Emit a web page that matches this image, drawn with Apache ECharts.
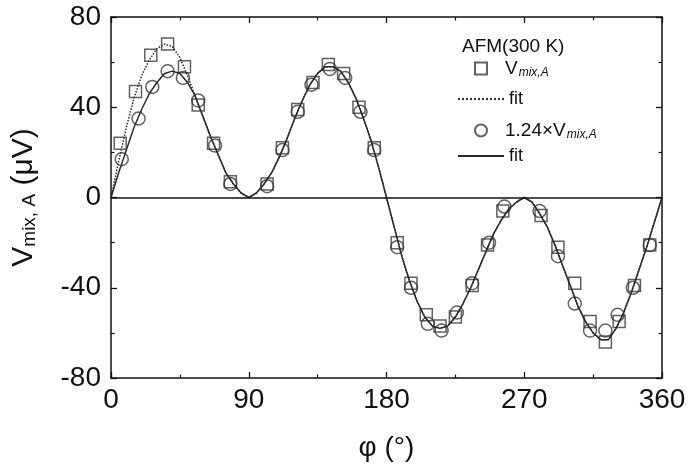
<!DOCTYPE html>
<html>
<head>
<meta charset="utf-8">
<script src="https://cdn.jsdelivr.net/npm/echarts@6/dist/echarts.min.js"></script>
<style>
  html, body { margin: 0; padding: 0; background: #fff; }
  #chart { width: 698px; height: 475px; }
</style>
</head>
<body>
<div id="chart"></div>
<script>
// Axis ticks
const xTicks = [0, 90, 180, 270, 360];
const yTicks = [-80, -40, 0, 40, 80];

// Measured V_mix,A (squares)
const phiSq = [6, 16, 26, 37, 48, 57, 67, 78, 102, 112, 122, 132, 142, 152, 162, 172,
               187, 196, 206, 215, 225, 236, 246, 256, 281, 292, 303, 313, 323, 332, 342, 352];
const vSq   = [24, 47, 63, 68, 58, 41, 24, 7, 6, 22, 39, 51, 59, 55, 40, 22,
               -20, -38, -52, -57, -53, -39, -21, -6, -8, -22, -38, -55, -64, -55, -39, -21];

// Scaled 1.24 x V_mix,A (circles)
const phiCi = [7, 18, 27, 37, 47, 57, 68, 78, 102, 112, 122, 131, 143, 153, 163, 172,
               187, 196, 207, 216, 226, 236, 247, 257, 280, 292, 303, 313, 323, 331, 341, 352];
const vCi   = [17, 35, 49, 56, 53, 43, 23, 6, 5, 21, 38, 50, 57, 53, 38, 21,
               -22, -40, -56, -59, -51, -38, -20, -4, -6, -26, -47, -59, -59, -52, -40, -21];

// Fit curves, sampled every 5 degrees
const phiFit = [0, 5, 10, 15, 20, 25, 30, 35, 40, 45, 50, 55, 60, 65, 70, 75, 80, 85, 90,
                95, 100, 105, 110, 115, 120, 125, 130, 135, 140, 145, 150, 155, 160, 165, 170, 175, 180,
                185, 190, 195, 200, 205, 210, 215, 220, 225, 230, 235, 240, 245, 250, 255, 260, 265, 270,
                275, 280, 285, 290, 295, 300, 305, 310, 315, 320, 325, 330, 335, 340, 345, 350, 355, 360];
const fitSq = [0, 16, 31, 44, 54, 61, 66, 68, 67, 62, 54, 45, 36, 27, 19, 11, 6, 2, 0,
               2, 6, 11, 18, 26, 35, 43, 50, 55, 58, 58, 56, 51, 44, 35, 25, 13, 0,
               -13, -26, -37, -46, -53, -57, -58, -57, -53, -47, -40, -32, -24, -16, -10, -5, -2, 0,
               -2, -7, -13, -21, -30, -39, -48, -55, -60, -63, -63, -58, -51, -42, -32, -22, -11, 0];
const fitCi = [0, 11, 21, 31, 39, 46, 51, 55, 56, 55, 51, 45, 36, 27, 19, 11, 6, 2, 0,
               2, 6, 11, 18, 26, 35, 43, 50, 55, 58, 58, 56, 51, 44, 35, 25, 13, 0,
               -13, -26, -37, -46, -53, -57, -58, -57, -53, -47, -40, -32, -24, -16, -10, -5, -2, 0,
               -2, -7, -13, -21, -30, -39, -48, -55, -60, -63, -63, -58, -51, -42, -32, -22, -11, 0];

const pairs = (xs, ys) => xs.map((x, i) => [x, ys[i]]);

const FONT = '"Liberation Sans", Arial, sans-serif';
const INK = '#111';
const MARK = '#3a3a3a';
const FIT = '#2a2a2a';

const axisLine = { show: true, onZero: false, lineStyle: { color: INK, width: 1.5 } };
const axisTick = { show: true, inside: true, length: 6, lineStyle: { color: INK, width: 1.3 } };
const minorTick = { show: true, splitNumber: 2, length: 3.5, lineStyle: { color: INK, width: 1.2 } };

const xBase = {
  type: 'value', min: xTicks[0], max: xTicks[xTicks.length - 1], interval: xTicks[1] - xTicks[0],
  axisLine, axisTick, minorTick, splitLine: { show: false }
};
const yBase = {
  type: 'value', min: yTicks[0], max: yTicks[yTicks.length - 1], interval: yTicks[1] - yTicks[0],
  axisLine, axisTick, minorTick, splitLine: { show: false }
};

const legendText = {
  fontFamily: FONT, color: INK, fontSize: 18,
  rich: {
    g: { width: 13 },
    v: { fontFamily: FONT, fontSize: 19, color: INK },
    s: { fontFamily: FONT, fontSize: 12, fontStyle: 'italic', color: INK, padding: [9, 0, 0, 1] }
  }
};
const legendBase = { orient: 'vertical', padding: 0, itemGap: 0, selectedMode: false, textStyle: legendText };
// line-only keys for the fit entries
const lineKey = { itemWidth: 46, itemHeight: 14, itemStyle: { opacity: 0 } };

const chart = echarts.init(document.getElementById('chart'), null, { renderer: 'canvas' });
chart.setOption({
  animation: false,
  backgroundColor: '#fff',
  textStyle: { fontFamily: FONT },
  title: {
    text: 'AFM(300 K)', left: 457, top: 32,
    textStyle: { fontFamily: FONT, fontSize: 19, fontWeight: 'normal', color: INK }
  },
  grid: { left: 111, right: 36, top: 17, bottom: 97, containLabel: false },
  xAxis: [
    Object.assign({}, xBase, {
      position: 'bottom',
      axisLabel: { fontFamily: FONT, fontSize: 28, color: INK, margin: 8 },
      name: 'φ (°)', nameLocation: 'middle', nameGap: 56,
      nameTextStyle: { fontFamily: FONT, fontSize: 28, color: INK }
    }),
    Object.assign({}, xBase, { position: 'top', axisLabel: { show: false } })
  ],
  yAxis: [
    Object.assign({}, yBase, {
      position: 'left',
      axisLabel: { fontFamily: FONT, fontSize: 28, color: INK, margin: 10 },
      name: '{v|V}{s|mix, A}{v| (μV)}', nameLocation: 'middle', nameRotate: 90, nameGap: 72,
      nameTextStyle: {
        color: INK,
        rich: {
          v: { fontFamily: FONT, fontSize: 30, color: INK },
          s: { fontFamily: FONT, fontSize: 19, color: INK, padding: [12, 0, 0, 0] }
        }
      }
    }),
    Object.assign({}, yBase, { position: 'right', axisLabel: { show: false } })
  ],
  legend: [
    Object.assign({}, legendBase, {
      data: ['Vsq'], left: 474, top: 59, itemWidth: 12, itemHeight: 12,
      formatter: () => '{g|}{v|V}{s|mix,A}'
    }),
    Object.assign({}, legendBase, lineKey, {
      data: ['fitSq'], left: 457, top: 90,
      formatter: () => 'fit'
    }),
    Object.assign({}, legendBase, {
      data: ['Vci'], left: 474, top: 121, itemWidth: 12, itemHeight: 12,
      formatter: () => '{g|}{v|1.24×V}{s|mix,A}'
    }),
    Object.assign({}, legendBase, lineKey, {
      data: ['fitCi'], left: 457, top: 147,
      formatter: () => 'fit'
    })
  ],
  series: [
    {
      name: 'Vsq', type: 'scatter', data: pairs(phiSq, vSq),
      symbol: 'rect', symbolSize: 12, z: 3,
      itemStyle: { color: 'rgba(255,255,255,0)', borderColor: MARK, borderWidth: 1.5 }
    },
    {
      name: 'fitSq', type: 'line', data: pairs(phiFit, fitSq),
      symbol: 'none', showSymbol: false, z: 4,
      itemStyle: { color: FIT },
      lineStyle: { color: FIT, width: 1.5, type: 'dotted' },
      markLine: {
        silent: true, symbol: 'none', label: { show: false },
        lineStyle: { color: INK, width: 1.5, type: 'solid' },
        data: [{ yAxis: 0 }]
      }
    },
    {
      name: 'Vci', type: 'scatter', data: pairs(phiCi, vCi),
      symbol: 'circle', symbolSize: 13, z: 3,
      itemStyle: { color: 'rgba(255,255,255,0)', borderColor: MARK, borderWidth: 1.5 }
    },
    {
      name: 'fitCi', type: 'line', data: pairs(phiFit, fitCi),
      symbol: 'none', showSymbol: false, z: 4,
      itemStyle: { color: FIT },
      lineStyle: { color: FIT, width: 1.5, type: 'solid' }
    }
  ]
});
</script>
</body>
</html>
